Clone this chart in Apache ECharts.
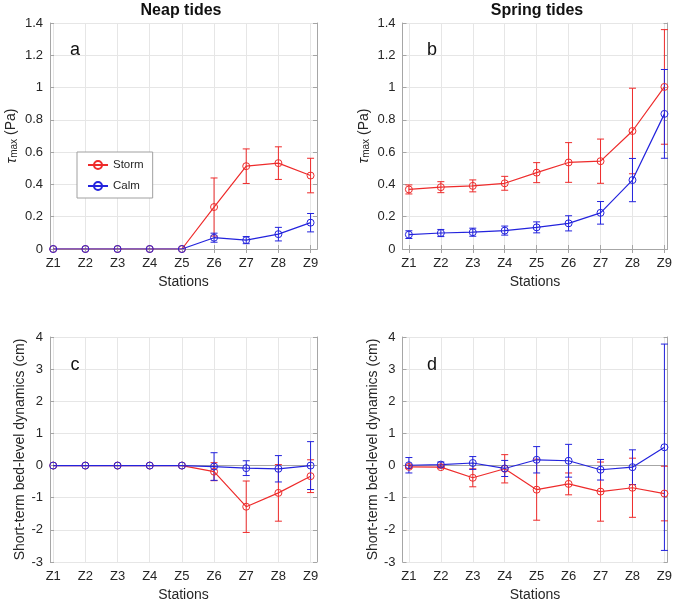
<!DOCTYPE html>
<html>
<head>
<meta charset="utf-8">
<script src="https://cdn.jsdelivr.net/npm/echarts@6/dist/echarts.min.js"></script>
<style>
  html, body { margin: 0; background: #fff; }
  #chart { width: 675px; height: 603px; }
</style>
</head>
<body>
<div id="chart"></div>
<script>
// stations along the x axis
const stations = ['Z1', 'Z2', 'Z3', 'Z4', 'Z5', 'Z6', 'Z7', 'Z8', 'Z9'];

// a) neap tides, tau max (Pa)
const neapTauStorm = [0, 0, 0, 0, 0, 0.26, 0.513, 0.532, 0.455];
const neapTauStormErr = [0, 0, 0, 0, 0, 0.18, 0.107, 0.101, 0.107];
const neapTauCalm = [0, 0, 0, 0, 0, 0.07, 0.055, 0.092, 0.163];
const neapTauCalmErr = [0, 0, 0, 0, 0, 0.028, 0.022, 0.042, 0.057];

// b) spring tides, tau max (Pa)
const springTauStorm = [0.369, 0.383, 0.391, 0.407, 0.473, 0.536, 0.544, 0.731, 1.004];
const springTauStormErr = [0.028, 0.034, 0.037, 0.043, 0.062, 0.123, 0.137, 0.265, 0.355];
const springTauCalm = [0.089, 0.099, 0.104, 0.114, 0.134, 0.159, 0.224, 0.427, 0.837];
const springTauCalmErr = [0.024, 0.022, 0.025, 0.028, 0.034, 0.047, 0.07, 0.134, 0.275];

// c) neap tides, bed-level dynamics (cm)
const neapBedStorm = [0, 0, 0, 0, 0, -0.19, -1.28, -0.85, -0.33];
const neapBedStormErr = [0, 0, 0, 0, 0, 0.28, 0.8, 0.88, 0.51];
const neapBedCalm = [0, 0, 0, 0, 0, -0.03, -0.08, -0.1, 0];
const neapBedCalmErr = [0, 0, 0, 0, 0, 0.43, 0.23, 0.41, 0.745];

// d) spring tides, bed-level dynamics (cm)
const springBedStorm = [-0.04, -0.05, -0.38, -0.1, -0.75, -0.57, -0.81, -0.69, -0.87];
const springBedStormErr = [0.05, 0.03, 0.28, 0.44, 0.95, 0.34, 0.92, 0.92, 0.85];
const springBedCalm = [0.01, 0.03, 0.08, -0.09, 0.18, 0.15, -0.13, -0.05, 0.57];
const springBedCalmErr = [0.24, 0.08, 0.2, 0.25, 0.41, 0.51, 0.32, 0.54, 3.21];

const FONT = '"Liberation Sans", Arial, sans-serif';
const TXT = '#262626';
const BOX = '#a6a6a6';
const GRIDLINE = '#e6e6e6';
const RED = '#ee2b2b';
const BLUE = '#2323dd';
const tickPos = stations.map((s, i) => i + 1);

const tauName = '{t|τ}{s|max} (Pa)';
const bedName = 'Short-term bed-level dynamics (cm)';

const panels = [
  { left: 50, top: 23, width: 267, height: 226, xMin: 0.9, xMax: 9.2, yMin: 0, yMax: 1.4, yStep: 0.2,
    name: tauName, nameGap: 31, storm: neapTauStorm, stormErr: neapTauStormErr, calm: neapTauCalm, calmErr: neapTauCalmErr },
  { left: 402.5, top: 23, width: 267.5, height: 226, xMin: 0.8, xMax: 9.1, yMin: 0, yMax: 1.4, yStep: 0.2,
    name: tauName, nameGap: 31, storm: springTauStorm, stormErr: springTauStormErr, calm: springTauCalm, calmErr: springTauCalmErr },
  { left: 50, top: 337, width: 267, height: 227, xMin: 0.9, xMax: 9.2, yMin: -3, yMax: 4, yStep: 1,
    name: bedName, nameGap: 20, storm: neapBedStorm, stormErr: neapBedStormErr, calm: neapBedCalm, calmErr: neapBedCalmErr },
  { left: 402.5, top: 337, width: 267.5, height: 227, xMin: 0.8, xMax: 9.1, yMin: -3, yMax: 4, yStep: 1,
    name: bedName, nameGap: 17, storm: springBedStorm, stormErr: springBedStormErr, calm: springBedCalm, calmErr: springBedCalmErr }
];

function errorBars(color) {
  return function (params, api) {
    const x = api.value(0), m = api.value(1), e = api.value(2);
    if (!e) return null;
    const hi = api.coord([x, m + e]);
    const lo = api.coord([x, m - e]);
    const w = 3.5;
    const style = { stroke: color, lineWidth: 1, fill: null };
    return {
      type: 'group',
      children: [
        { type: 'line', shape: { x1: hi[0], y1: hi[1], x2: lo[0], y2: lo[1] }, style: style },
        { type: 'line', shape: { x1: hi[0] - w, y1: hi[1], x2: hi[0] + w, y2: hi[1] }, style: style },
        { type: 'line', shape: { x1: lo[0] - w, y1: lo[1], x2: lo[0] + w, y2: lo[1] }, style: style }
      ]
    };
  };
}

const grid = [], xAxis = [], yAxis = [], series = [];

panels.forEach((p, i) => {
  grid.push({ left: p.left, top: p.top, width: p.width, height: p.height, containLabel: false });

  const axLine = { show: true, lineStyle: { color: BOX, width: 1 } };
  xAxis.push({
    type: 'value', gridIndex: i, min: p.xMin, max: p.xMax,
    axisLine: axLine,
    axisTick: { show: true, inside: true, length: 4, customValues: tickPos, lineStyle: { color: BOX } },
    axisLabel: { customValues: tickPos, formatter: v => stations[Math.round(v) - 1],
      color: TXT, fontSize: 13, fontFamily: FONT, margin: 8 },
    splitLine: { show: true, lineStyle: { color: GRIDLINE } },
    name: 'Stations', nameLocation: 'middle', nameGap: 26,
    nameTextStyle: { color: TXT, fontSize: 14, fontFamily: FONT }
  });
  xAxis.push({
    type: 'value', gridIndex: i, min: p.xMin, max: p.xMax, position: 'top',
    axisLine: axLine,
    axisTick: { show: true, inside: true, length: 4, customValues: tickPos, lineStyle: { color: BOX } },
    axisLabel: { show: false }, splitLine: { show: false }
  });
  yAxis.push({
    type: 'value', gridIndex: i, min: p.yMin, max: p.yMax, interval: p.yStep,
    axisLine: axLine,
    axisTick: { show: true, inside: true, length: 4, lineStyle: { color: BOX } },
    axisLabel: { color: TXT, fontSize: 13, fontFamily: FONT, margin: 7 },
    splitLine: { show: true, lineStyle: { color: GRIDLINE } },
    name: p.name, nameLocation: 'middle', nameGap: p.nameGap,
    nameTextStyle: {
      color: TXT, fontSize: 14, fontFamily: FONT,
      rich: {
        t: { fontSize: 15, fontFamily: FONT, color: TXT, fontStyle: 'italic' },
        s: { fontSize: 10, fontFamily: FONT, color: TXT, verticalAlign: 'bottom', lineHeight: 10, padding: [6, 0, 0, 0] }
      }
    }
  });
  yAxis.push({
    type: 'value', gridIndex: i, min: p.yMin, max: p.yMax, interval: p.yStep, position: 'right',
    axisLine: axLine,
    axisTick: { show: true, inside: true, length: 4, lineStyle: { color: BOX } },
    axisLabel: { show: false }, splitLine: { show: false }
  });

  const xi = 2 * i, yi = 2 * i;
  [['Storm', p.storm, p.stormErr, RED], ['Calm', p.calm, p.calmErr, BLUE]].forEach(([name, vals, errs, color]) => {
    series.push({
      type: 'custom', xAxisIndex: xi, yAxisIndex: yi,
      renderItem: errorBars(color),
      encode: { x: 0, y: 1 },
      data: vals.map((v, k) => [k + 1, v, errs[k]]),
      silent: true
    });
    series.push({
      type: 'line', name: name, xAxisIndex: xi, yAxisIndex: yi,
      data: vals.map((v, k) => [k + 1, v]),
      symbol: 'circle', symbolSize: 7,
      itemStyle: { color: 'rgba(255,255,255,0)', borderColor: color, borderWidth: 1 },
      lineStyle: { color: color, width: 1.2 },
      silent: true
    });
  });
});

const letters = [['a', 75, 50], ['b', 432, 50], ['c', 75, 365], ['d', 432, 365]];
const graphic = letters.map(([t, x, y]) => ({
  type: 'text', x: x, y: y, z: 100,
  style: { text: t, fill: '#111', font: '18px ' + FONT, align: 'center', verticalAlign: 'middle' }
}));
graphic.push(
  { type: 'text', x: 181, y: 11, z: 100, style: { text: 'Neap tides', fill: '#111', font: 'bold 16px ' + FONT, align: 'center', verticalAlign: 'middle' } },
  { type: 'text', x: 537, y: 11, z: 100, style: { text: 'Spring tides', fill: '#111', font: 'bold 16px ' + FONT, align: 'center', verticalAlign: 'middle' } }
);

const chart = echarts.init(document.getElementById('chart'));
chart.setOption({
  animation: false,
  backgroundColor: '#fff',
  textStyle: { fontFamily: FONT },
  grid: grid,
  xAxis: xAxis,
  yAxis: yAxis,
  legend: {
    left: 77, top: 152, orient: 'vertical',
    data: ['Storm', 'Calm'],
    itemWidth: 20, itemHeight: 10, itemGap: 9,
    padding: [7, 9, 6, 10],
    borderColor: '#a0a0a0', borderWidth: 1, backgroundColor: '#fff',
    textStyle: { color: TXT, fontSize: 11.5, fontFamily: FONT }
  },
  series: series,
  graphic: graphic
});
</script>
</body>
</html>
